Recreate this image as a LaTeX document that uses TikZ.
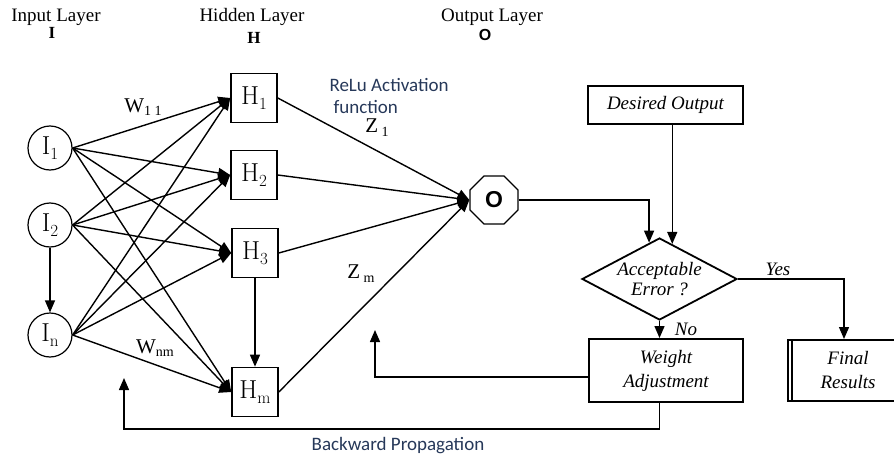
\documentclass[tikz,border=0pt]{standalone}
\usepackage{fontspec}
\usetikzlibrary{arrows.meta,shapes.geometric,calc}
\newfontfamily\tms{Liberation Serif}
\newfontfamily\calib{Carlito}
\newfontfamily\sansb{Liberation Sans}
\definecolor{notecol}{HTML}{263859}
% neuron label: letter with a lowered index
\newcommand{\nlab}[2]{#1\raisebox{-5pt}{\fontsize{17}{17}\selectfont #2}}

\begin{document}
\begin{tikzpicture}[x=1pt,y=-1pt,
  arr/.style={-{Triangle[length=12pt,width=10pt]}, line width=1.4pt},
  inp/.style={circle, draw, line width=1.2pt, minimum size=44pt, inner sep=0pt,
    font=\fontsize{26}{28}\selectfont},
  hid/.style={rectangle, draw, line width=1.6pt, minimum width=46pt,
    minimum height=49pt, inner sep=0pt, font=\fontsize{26}{28}\selectfont},
  outn/.style={regular polygon, regular polygon sides=8, draw, line width=1.3pt,
    minimum size=52pt, inner sep=0pt, font=\sansb\bfseries\fontsize{23}{24}\selectfont},
  fbox/.style={rectangle, draw, line width=2pt, inner sep=0pt, align=center,
    font=\tms\itshape\fontsize{19}{24}\selectfont},
  dec/.style={diamond, draw, line width=1.8pt, aspect=2, minimum width=155pt,
    minimum height=82pt, inner sep=0pt, align=center,
    font=\tms\itshape\fontsize{19}{20}\selectfont},
  hdr/.style={font=\tms\fontsize{19}{22}\selectfont},
  hsym/.style={font=\tms\bfseries\fontsize{17}{17}\selectfont},
  osym/.style={font=\sansb\bfseries\fontsize{16}{16}\selectfont},
  wlbl/.style={font=\tms\fontsize{21}{22}\selectfont},
  flbl/.style={font=\tms\itshape\fontsize{19}{22}\selectfont},
  note/.style={font=\calib\fontsize{19}{22}\selectfont, text=notecol},
]
\useasboundingbox (0,0) rectangle (894,460);

% layer headings
\node[hdr] (tin) at (56,17) {Input Layer};
\node[hsym] (sin) at (52,33) {I};
\node[hdr] (thid) at (252,17) {Hidden Layer};
\node[hsym] (shid) at (254,38) {H};
\node[hdr] (tout) at (492,17) {Output Layer};
\node[osym] (sout) at (485,35) {O};

% input neurons
\node[inp] (i1) at (50,148) {\nlab{I}{1}};
\node[inp] (i2) at (50,225) {\nlab{I}{2}};
\node[inp] (in) at (50,335) {\nlab{I}{n}};

% hidden neurons
\node[hid] (h1) at (254,98) {\nlab{H}{1}};
\node[hid] (h2) at (254,175) {\nlab{H}{2}};
\node[hid] (h3) at (255,253) {\nlab{H}{3}};
\node[hid] (hm) at (255,392) {\nlab{H}{m}};

% output neuron
\node[outn] (o) at (494,200) {O};

% weights input -> hidden
\foreach \a in {i1,i2,in}
  \foreach \b in {h1,h2,h3,hm}
    \draw[arr] (\a.east) -- (\b.west);
\draw[arr] (i2.south) -- (in.north);
\draw[arr] (h3.south) -- (hm.north);

% hidden -> output
\foreach \b in {h1,h2,h3,hm}
  \draw[arr] (\b.east) -- (o.west);

% weight and signal labels
\node[wlbl] (w11) at (143,107) {W\raisebox{-3pt}{\fontsize{14}{14}\selectfont 1 1}};
\node[wlbl] (wnm) at (155,348) {W\raisebox{-3pt}{\fontsize{14}{14}\selectfont nm}};
\node[wlbl] (z1) at (377,128) {Z\,\raisebox{-4pt}{\fontsize{14}{14}\selectfont 1}};
\node[wlbl] (zm) at (361,274) {Z\,\raisebox{-4pt}{\fontsize{14}{14}\selectfont m}};
\node[note, anchor=west, align=left] (relu) at (326,96)
  {ReLu Activation\\\hspace{4pt}function};

% error check flowchart
\node[fbox, minimum width=155pt, minimum height=38pt] (des) at (665.5,105)
  {Desired Output};
\node[dec] (err) at (659.5,279) {Acceptable\\Error ?};
\node[fbox, minimum width=154pt, minimum height=63pt] (wa) at (666,370.5)
  {Weight\\Adjustment};
\node[fbox, minimum width=112pt, minimum height=61pt] (fin) at (844,370.5)
  {\hspace*{8pt}Final\\\hspace*{8pt}Results};
\draw[line width=1.6pt] ([xshift=5pt]fin.north west) -- ([xshift=5pt]fin.south west);

\draw[arr] (o.east) -| (err.106.5);
\draw[arr] (des.south -| err.70) -- (err.70);
\draw[arr] (err.east) -| (fin.north);
\node[flbl] (yes) at (778,269) {Yes};
\draw[arr] (err.south) -- (err.south |- wa.north);
\node[flbl] (no) at (686,329) {No};

% backward propagation paths
\coordinate (wb) at (375,330);
\coordinate (fb) at (124,378);
\draw[arr] ([yshift=-6.5pt]wa.west) -| (wb);
\draw[arr] (err.south |- wa.south) -- ++(0,26) -| (fb);
\node[note] (bp) at (398,446) {Backward Propagation};
\end{tikzpicture}
\end{document}
